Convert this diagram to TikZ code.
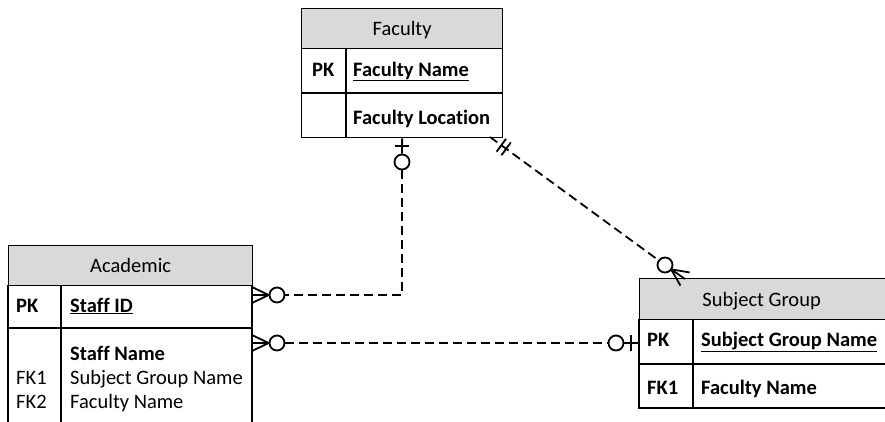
\documentclass[tikz,border=0pt]{standalone}
\usepackage{fontspec}
\setmainfont{Carlito}[Ligatures=CommonOff]
\usetikzlibrary{calc}
\definecolor{hdrgray}{RGB}{217,217,217}
\newcommand\erfont{\fontsize{20.5}{24}\selectfont}
\begin{document}
\begin{tikzpicture}[x=1pt,y=-1pt,
  tbl/.style={draw,line width=1.3pt},
  hdr/.style={draw,line width=1.3pt,fill=hdrgray,anchor=north west,inner sep=0pt,
     text height=14pt,text depth=0pt,font=\erfont},
  body/.style={draw,line width=1.3pt,anchor=north west,inner sep=0pt},
  txt/.style={anchor=base west,inner sep=0pt,font=\erfont},
  conn/.style={line width=1.8pt,dash pattern=on 9pt off 5pt},
  crow/.style={line width=1.8pt},
  circ/.style={circle,draw,line width=1.8pt,minimum size=15pt,inner sep=0pt,fill=white}]
\path[use as bounding box,clip] (0,0) rectangle (885,421);

% Faculty
\node[hdr,minimum width=201pt,minimum height=40pt] (fac) at (301,8) {Faculty};
\node[body,minimum width=201pt,minimum height=89pt] (facbody) at (301,48) {};
\draw[tbl] (301,93) -- (502,93);
\draw[tbl] (346,48) -- (346,137);
\node[txt] (facpk) at (312,76) {\textbf{PK}};
\node[txt] (facname) at (353,76) {\textbf{\underline{Faculty Name}}};
\node[txt] (facloc) at (353,124) {\textbf{Faculty Location}};

% Academic
\node[hdr,minimum width=244pt,minimum height=40pt] (aca) at (8,245) {Academic};
\draw[tbl] (8,285) -- (8,440);
\draw[tbl] (252,285) -- (252,440);
\draw[tbl] (8,328) -- (252,328);
\draw[tbl] (61,285) -- (61,440);
\node[txt] (acapk) at (16,312) {\textbf{PK}};
\node[txt] (acaid) at (70,312) {\textbf{\underline{Staff ID}}};
\node[txt] (acasn) at (70,360) {\textbf{Staff Name}};
\node[txt] (acafk1) at (16,384) {FK1};
\node[txt] (acasg) at (70,384) {Subject Group Name};
\node[txt] (acafk2) at (16,408) {FK2};
\node[txt] (acafn) at (70,408) {Faculty Name};

% Subject Group
\node[hdr,minimum width=260pt,minimum height=41pt] (sg) at (639,278) {\hspace*{-16pt}Subject Group};
\draw[tbl] (639,319) -- (639,408) -- (900,408);
\draw[tbl] (639,364) -- (900,364);
\draw[tbl] (693,319) -- (693,408);
\node[txt] (sgpk) at (647,346) {\textbf{PK}};
\node[txt] (sgname) at (701,346) {\textbf{\underline{Subject Group Name}}};
\node[txt] (sgfk) at (647,394) {\textbf{FK1}};
\node[txt] (sgfn) at (701,394) {\textbf{Faculty Name}};

% connector points
\coordinate (a1) at (252,295);
\coordinate (a2) at (252,343);
\coordinate (s1) at (639,343);
\coordinate (S) at (490,137);
\coordinate (E) at (685,279);

\node[circ] (c1) at (402,162) {};
\node[circ] (c2) at (277,295) {};
\node[circ] (c3) at (277,343) {};
\node[circ] (c4) at (616,343) {};
\node[circ] (c5) at (665,265) {};

% Faculty - Academic
\draw[crow] (facbody.south) -- (c1);
\draw[crow] ($(facbody.south)+(-7,8)$) -- ++(14,0);
\draw[conn] (c1) |- (c2);
\draw[crow] (c2.west) -- (a1);
\draw[crow] (c2.west) -- ($(a1)+(0,-8)$);
\draw[crow] (c2.west) -- ($(a1)+(0,8)$);

% Academic - Subject Group
\draw[crow] (c3.west) -- (a2);
\draw[crow] (c3.west) -- ($(a2)+(0,-8)$);
\draw[crow] (c3.west) -- ($(a2)+(0,8)$);
\draw[conn] (c3) -- (c4);
\draw[crow] (c4) -- (s1);
\draw[crow] ($(s1)+(-8,-8)$) -- ++(0,16);

% Faculty - Subject Group
\draw[conn] (S) -- (c5);
\coordinate (b1) at ($(S)!14pt!(c5.center)$);
\coordinate (b2) at ($(S)!20pt!(c5.center)$);
\draw[crow] ($(b1)!8pt!90:(S)$) -- ($(b1)!8pt!-90:(S)$);
\draw[crow] ($(b2)!8pt!90:(S)$) -- ($(b2)!8pt!-90:(S)$);
\coordinate (K) at ($(c5.center)!7.5pt!(E)$);
\draw[crow] (K) -- (E);
\draw[crow] (K) -- ($(E)!8pt!90:(K)$);
\draw[crow] (K) -- ($(E)!8pt!-90:(K)$);
\end{tikzpicture}
\end{document}
